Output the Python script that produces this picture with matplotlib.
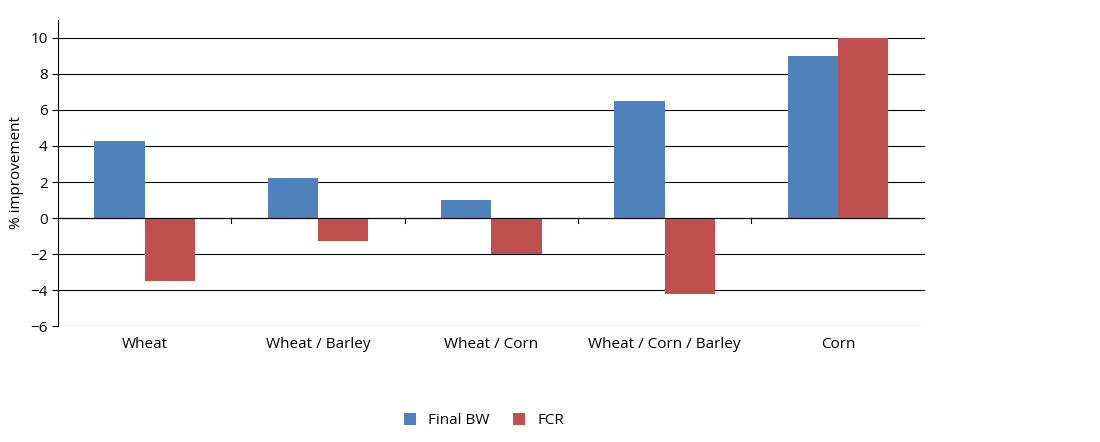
import matplotlib.pyplot as plt
import numpy as np

categories = ["Wheat", "Wheat / Barley", "Wheat / Corn", "Wheat / Corn / Barley", "Corn"]
final_bw = [4.3, 2.2, 1.0, 6.5, 9.0]
fcr = [-3.5, -1.3, -2.0, -4.2, 10.0]

plt.rcParams["font.family"] = ["Open Sans", "DejaVu Sans"]

fig = plt.figure(figsize=(11, 4.42), dpi=100)
ax = fig.add_axes([0.0527, 0.2624, 0.788, 0.6924])

x = np.arange(len(categories))
w = 0.29
ax.bar(x - w / 2, final_bw, w, color="#4F81BD", label="Final BW", zorder=3)
ax.bar(x + w / 2, fcr, w, color="#C0504D", label="FCR", zorder=3)

ax.set_xlim(-0.5, len(categories) - 0.5)
ax.set_ylim(-6, 11)
ax.set_yticks(np.arange(-6, 11, 2))
ax.tick_params(axis="y", labelsize=11, length=4, direction="out")
ax.yaxis.grid(True, color="#000000", linewidth=0.8, zorder=0)
ax.set_ylabel("% improvement", fontsize=11)

# category axis at zero with boundary ticks
ax.axhline(0, color="black", linewidth=0.8, zorder=4)
for b in np.arange(0.5, len(categories) - 0.5, 1):
    ax.plot([b, b], [0, -0.3], color="black", linewidth=0.8, zorder=4, clip_on=False)
ax.set_xticks(x)
ax.set_xticklabels(categories, fontsize=11)
ax.tick_params(axis="x", length=0, pad=8)

for s in ["top", "right", "bottom"]:
    ax.spines[s].set_visible(False)
ax.spines["left"].set_color("black")

fig.legend(loc="lower center", bbox_to_anchor=(0.44, 0.0), ncol=2, frameon=False,
           fontsize=11, handlelength=0.8, handleheight=0.8, columnspacing=1.5)

fig.savefig("out.png")
